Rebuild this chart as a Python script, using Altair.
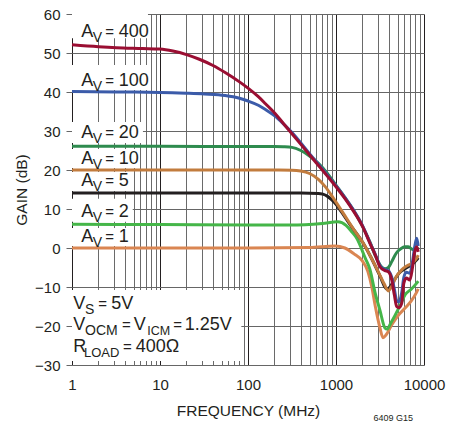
import altair as alt
import pandas as pd

# ---------------- data ----------------
f_av400 = [1, 2, 3.2, 6.3, 10, 14, 20, 28, 40, 55, 80, 100, 131, 158, 203, 251, 316, 500, 794, 1000, 1259, 1585, 1995, 2432, 2818, 3160, 3600, 3930, 4300, 4600, 4900, 5200, 5580, 5900, 6300, 6900, 7400, 7800, 8260, 8600]
g_av400 = [52.1, 51.6, 51.35, 51.15, 51.0, 50.5, 49.6, 48.4, 46.8, 45.0, 42.6, 41.0, 38.8, 37.0, 34.5, 32.0, 29.3, 23.9, 18.5, 15.7, 12.7, 9.4, 5.6, 1.2, -2.0, -4.8, -5.8, -6.1, -8.2, -12.0, -15.0, -15.3, -14.2, -9.0, -7.7, -8.2, -5.0, -1.3, 0.3, -1.0]

f_av100 = [1, 3.2, 10, 20, 32, 55, 80, 100, 131, 158, 203, 251, 316, 500, 794, 1000, 1259, 1585, 1995, 2432, 2818, 3160, 3600, 3930, 4300, 4600, 4900, 5200, 5580, 5900, 6300, 6900, 7400, 7800, 8260, 8600]
g_av100 = [40.1, 40.0, 39.9, 39.7, 39.5, 39.1, 38.4, 37.7, 36.6, 35.5, 33.8, 31.9, 29.6, 24.2, 18.8, 16.0, 13.0, 9.7, 5.8, 1.4, -1.8, -4.5, -5.5, -5.8, -7.5, -10.5, -13.5, -13.8, -11.5, -7.5, -6.2, -6.5, -3.5, 0.0, 2.5, 0.5]

f_av20 = [1, 10, 100, 200, 251, 316, 398, 500, 631, 794, 1000, 1259, 1585, 1995, 2432, 2800, 3160, 3600, 3930, 4300, 4700, 5050, 5500, 6000, 6600, 7200, 7800, 8260, 8600]
g_av20 = [26.1, 26.1, 26.0, 26.0, 25.95, 25.8, 25.0, 23.6, 21.7, 19.2, 16.1, 13.0, 9.6, 5.6, 1.5, -2.0, -4.3, -5.3, -5.0, -3.5, -1.8, -0.8, -0.1, 0.3, 0.3, -0.2, -0.5, -0.3, 0.2]

f_av10 = [1, 10, 100, 316, 398, 501, 631, 750, 933, 1202, 1585, 1995, 2512, 3162, 3548, 3930, 4300, 4800, 5580, 6500, 7400, 8260, 8600]
g_av10 = [20.0, 20.0, 20.0, 19.95, 19.75, 19.1, 17.6, 15.8, 12.8, 9.0, 4.8, 1.6, -2.5, -7.0, -9.3, -11.0, -9.8, -7.5, -5.6, -4.5, -3.8, -2.6, -1.8]

f_av5 = [1, 10, 100, 400, 631, 708, 794, 891, 1000, 1148, 1413, 2040, 2512, 3162, 3770, 4100, 4600, 5200, 6100, 7000, 8260, 8600]
g_av5 = [14.1, 14.1, 14.1, 14.1, 14.0, 13.8, 13.3, 12.4, 11.2, 9.3, 6.3, 1.2, -2.5, -7.2, -10.5, -10.0, -8.2, -6.5, -5.3, -4.5, -3.0, -2.5]

f_av2 = [1, 10, 100, 300, 700, 1050, 1300, 1517, 1720, 2150, 2430, 2770, 3160, 3600, 3800, 4200, 4700, 5400, 6100, 7200, 8260, 8600]
g_av2 = [6.1, 6.0, 5.9, 5.9, 6.3, 6.7, 5.8, 4.1, 2.5, -2.6, -5.5, -11.3, -16.0, -20.5, -20.8, -19.2, -17.2, -14.5, -12.0, -10.5, -9.0, -8.5]

f_av1 = [1, 10, 100, 500, 975, 1260, 1600, 1970, 2300, 2570, 2800, 3160, 3420, 3700, 4300, 5000, 6100, 7200, 8260, 8600]
g_av1 = [0.0, 0.0, 0.0, 0.1, 0.5, 0.0, -1.5, -3.2, -6.0, -10.3, -15.0, -20.5, -23.0, -22.3, -19.7, -17.5, -15.4, -13.5, -11.3, -10.5]

series_names = ["AV = 1", "AV = 2", "AV = 5", "AV = 10", "AV = 20", "AV = 100", "AV = 400"]
series_f = [f_av1, f_av2, f_av5, f_av10, f_av20, f_av100, f_av400]
series_g = [g_av1, g_av2, g_av5, g_av10, g_av20, g_av100, g_av400]
series_colors = ["#DA8652", "#45B649", "#231F20", "#C27C3E", "#2E8B4E", "#3B5BA9", "#9A0E32"]

# gain labels: value text and baseline (dB)
label_values = ["1", "2", "5", "10", "20", "100", "400"]
label_gain = [1.6, 8.0, 15.9, 21.6, 28.3, 41.5, 54.2]
label_freq = 1.276
# white boxes behind labels (freq right edge, gain top, gain bottom)
box_f2 = [4.9, 4.9, 4.9, 5.9, 6.4, 7.7, 7.3]
box_gtop = [5.1, 12.6, 19.5, 25.4, 32.3, 46.9, 60.0]
box_gbot = [0.5, 6.7, 14.6, 20.5, 26.9, 40.5, 53.8]

# conditions box and its three lines of text: (text, offset px, font size, subscript)
cond_box = {"f": 1.0, "f2": 84, "g": -10.8, "g2": -29.0}
cond_freq = 1.035
cond_gain = [-15.7, -21.0, -26.6]
cond_lines = [
    [("V", 0, 18, False), ("S", 11.7, 14, True), ("=", 25.0, 15, False), ("5V", 38.0, 18, False)],
    [("V", 0, 18, False), ("OCM", 11.7, 14, True), ("=", 48.8, 15, False), ("V", 60.5, 18, False),
     ("ICM", 74.0, 12.5, True), ("=", 100.0, 15, False), ("1.25V", 111.5, 18, False)],
    [("R", 0, 18, False), ("LOAD", 10.7, 13, True), ("=", 49.6, 15, False), ("400Ω", 62.5, 18, False)],
]

x_ticks = [m * 10 ** d for d in range(4) for m in range(1, 10)] + [10000]
y_ticks = list(range(-30, 61, 10))

FONT = "Liberation Sans, Arial, sans-serif"
TXT = "#231F20"

xscale = alt.Scale(type="log", domain=[1, 10000], nice=False)
yscale = alt.Scale(domain=[-30, 60], nice=False, zero=False)

X = alt.X("f:Q", scale=xscale, axis=alt.Axis(
    values=x_ticks, format="d",
    labelExpr="indexof([1,10,100,1000,10000], datum.value) >= 0 ? datum.label : ''",
    labelOverlap=False, labelFlush=False,
    grid=True,
    gridColor={"condition": {"test": "indexof([1,10,100,1000,10000], datum.value) >= 0", "value": "#231F20"}, "value": "#6a6a6a"},
    gridWidth=1, ticks=False, domain=False,
    labelPadding=12, labelFontSize=15, labelFont=FONT, labelColor=TXT,
    title="FREQUENCY (MHz)", titleFont=FONT, titleFontSize=15.5, titleFontWeight="normal",
    titleColor=TXT, titleY=50, titleBaseline="alphabetic"))
Y = alt.Y("g:Q", scale=yscale, axis=alt.Axis(
    values=y_ticks, grid=True, gridColor="#666666", gridWidth=1,
    ticks=True, tickSize=6, tickColor="#666666", domain=False,
    labelPadding=6, labelFontSize=15, labelFont=FONT, labelColor=TXT,
    title="GAIN (dB)", titleFont=FONT, titleFontSize=15.5, titleFontWeight="normal",
    titleColor=TXT, titleAngle=-90, titleX=-46, titleY=175.5,
    titleBaseline="alphabetic", titleAlign="center"))

layers = []

# white boxes behind labels
boxes = pd.DataFrame({"f": [1.0] * len(box_f2), "f2": box_f2, "g": box_gtop, "g2": box_gbot})
layers.append(alt.Chart(boxes).mark_rect(color="white").encode(x=X, x2="f2:Q", y=Y, y2="g2:Q"))
layers.append(alt.Chart(pd.DataFrame([cond_box])).mark_rect(color="white").encode(x=X, x2="f2:Q", y=Y, y2="g2:Q"))

# curves
for name, fs, gs, col in zip(series_names, series_f, series_g, series_colors):
    df = pd.DataFrame({"f": fs, "g": gs, "s": name})
    layers.append(alt.Chart(df).mark_line(color=col, strokeWidth=3, interpolate="monotone").encode(x=X, y=Y))


def seg(text, f, g, dx, size=18, sub=False):
    df = pd.DataFrame({"f": [f], "g": [g], "t": [text]})
    return alt.Chart(df).mark_text(
        align="left", baseline="alphabetic", font=FONT,
        fontSize=size, dx=dx, dy=5 if sub else 0, color=TXT
    ).encode(x=X, y=Y, text="t:N")


# A_V labels
for v, g in zip(label_values, label_gain):
    layers.append(seg("A", label_freq, g, 0, 18))
    layers.append(seg("V", label_freq, g, 11.4, 14, True))
    layers.append(seg("=", label_freq, g, 24.0, 15))
    layers.append(seg(v, label_freq, g, 37.5, 18))

# conditions text
for line, g in zip(cond_lines, cond_gain):
    for text, dx, size, sub in line:
        layers.append(seg(text, cond_freq, g, dx, size, sub))

chart = alt.layer(*layers).properties(
    width=352, height=351,
    autosize=alt.AutoSizeParams(type="none"),
    padding={"left": 72, "top": 14, "right": 26, "bottom": 65},
    title=alt.TitleParams("6409 G15", orient="bottom", anchor="end", frame="group",
                          font=FONT, fontSize=9, fontWeight="normal", color=TXT, dx=-11, dy=-5, offset=0),
).configure_view(stroke="#231F20", strokeWidth=1.5).configure(background="white")

chart.save("out.html", embed_options={"renderer": "svg", "actions": False})
